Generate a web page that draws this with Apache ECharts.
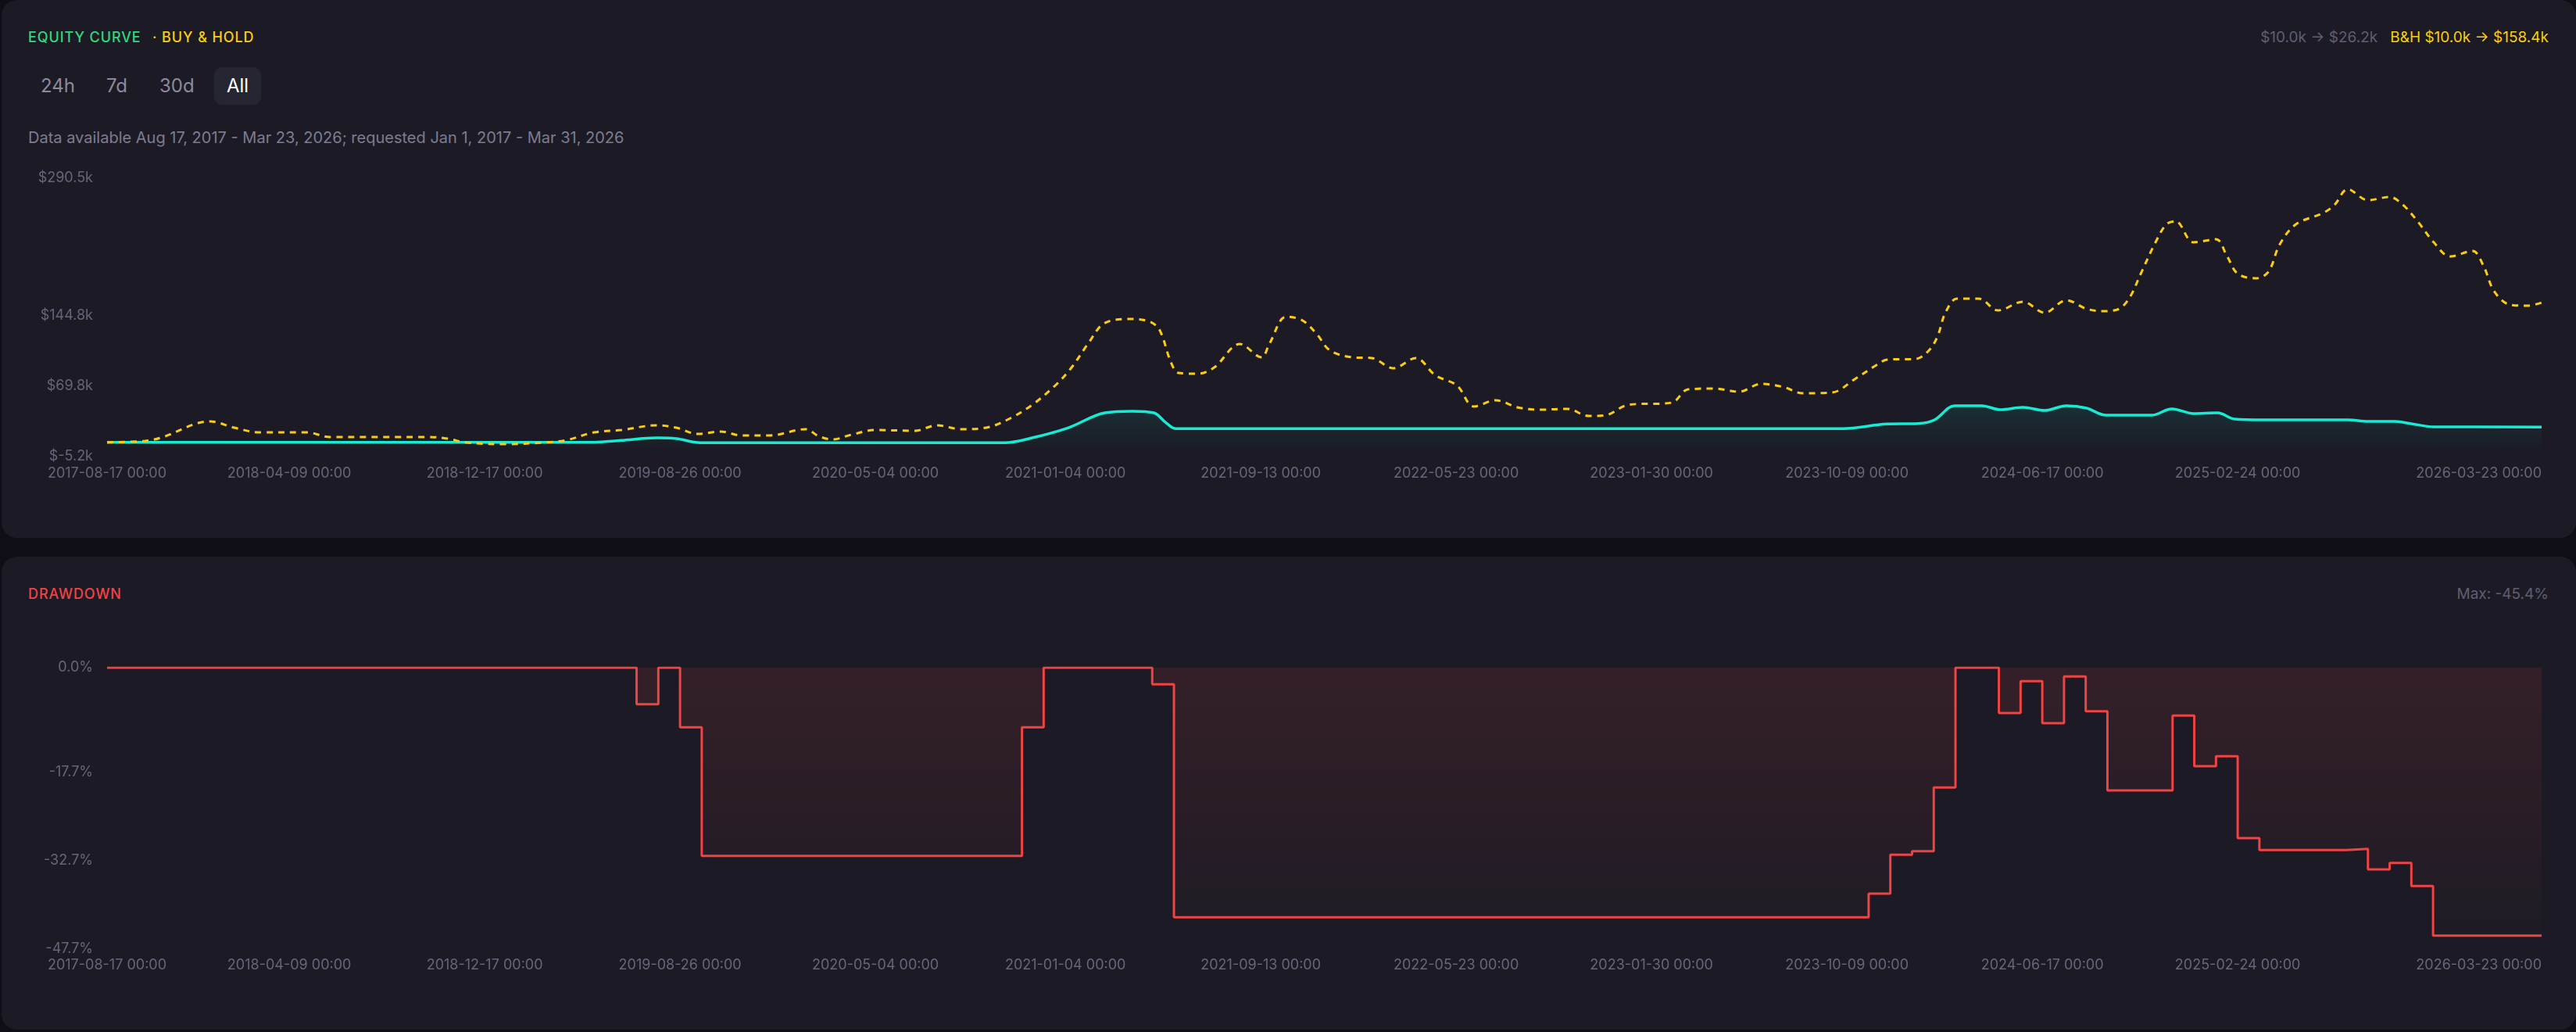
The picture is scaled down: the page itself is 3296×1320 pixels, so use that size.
<!DOCTYPE html>
<html>
<head>
<meta charset="utf-8">
<title>Equity curve</title>
<script src="https://cdn.jsdelivr.net/npm/echarts@6/dist/echarts.min.js"></script>
<style>
  html, body { margin: 0; padding: 0; background: #0f0e17; }
  body { width: 3296px; height: 1320px; position: relative; overflow: hidden; font-family: Inter, 'Noto Sans', sans-serif; }
  .card { position: absolute; left: 2px; width: 3294px; background: #1c1b25; border-radius: 20px; }
  .txt { position: absolute; white-space: nowrap; height: 30px; line-height: 30px; }
  .tag { font-size: 18px; font-weight: 500; letter-spacing: 0.9px; }
  .btn { font-size: 24px; color: #8b8a9f; height: 48px; line-height: 48px; }
  #chart { position: absolute; left: 0; top: 0; width: 3296px; height: 1320px; }
</style>
</head>
<body>
<div class="card" style="top:0;height:688px"></div>
<div class="card" style="top:712px;height:605px"></div>

<div class="txt tag" style="left:36px;top:33px;color:#34d77b">EQUITY CURVE</div>
<div class="txt tag" style="left:195px;top:33px;color:#facc15">· BUY &amp; HOLD</div>
<div class="txt" style="right:35px;top:33px;font-size:19px">
  <span style="color:#5f5e73">$10.0k → $26.2k</span>&nbsp;&nbsp;&nbsp;<span style="color:#facc15">B&amp;H $10.0k → $158.4k</span>
</div>

<div style="position:absolute;left:274px;top:86px;width:60px;height:48px;background:#262532;border-radius:10px"></div>
<div class="txt btn" style="left:52px;top:86px">24h</div>
<div class="txt btn" style="left:136px;top:86px">7d</div>
<div class="txt btn" style="left:204px;top:86px">30d</div>
<div class="txt btn" style="left:274px;top:86px;width:60px;text-align:center;color:#ffffff">All</div>

<div class="txt" style="left:36px;top:161px;font-size:20px;color:#7d7c90">Data available Aug 17, 2017 - Mar 23, 2026; requested Jan 1, 2017 - Mar 31, 2026</div>

<div class="txt tag" style="left:36px;top:745px;color:#ef4444">DRAWDOWN</div>
<div class="txt" style="right:35px;top:745px;font-size:19px;color:#5f5e73">Max: -45.4%</div>

<div id="chart"></div>

<script>
// Buy & hold value ($k)
const bhDates = [
  '2017-08-17','2017-10-05','2017-10-25','2017-12-28','2018-01-28','2018-03-02','2018-05-02','2018-05-31',
  '2018-10-05','2018-10-30','2018-11-23','2019-01-12','2019-03-04','2019-04-01','2019-05-07','2019-06-11',
  '2019-07-27','2019-08-21','2019-09-18','2019-10-17','2019-11-14','2019-12-19','2020-02-04','2020-02-21',
  '2020-03-10','2020-04-03','2020-05-04','2020-06-24','2020-07-22','2020-08-23','2020-09-24','2020-10-25',
  '2020-11-22','2020-12-22','2021-01-12','2021-02-02','2021-02-24','2021-03-31','2021-04-24','2021-05-06',
  '2021-05-20','2021-05-30','2021-06-24','2021-07-15','2021-08-17','2021-09-14','2021-09-24','2021-10-16',
  '2021-11-06','2021-11-24','2021-12-11','2022-01-09','2022-02-03','2022-03-03','2022-04-01','2022-04-26',
  '2022-05-24','2022-06-15','2022-07-13','2022-08-10','2022-09-08','2022-10-13','2022-11-10','2022-12-02',
  '2022-12-30','2023-02-25','2023-03-18','2023-04-21','2023-05-23','2023-06-20','2023-07-19','2023-08-13',
  '2023-09-20','2023-10-19','2023-11-16','2023-11-30','2024-01-06','2024-01-23','2024-02-03','2024-02-13',
  '2024-02-28','2024-03-27','2024-04-21','2024-05-23','2024-06-20','2024-07-18','2024-08-13','2024-09-03',
  '2024-09-24','2024-10-08','2024-10-22','2024-11-10','2024-11-24','2024-12-06','2024-12-29','2025-01-27',
  '2025-02-10','2025-02-24','2025-03-20','2025-04-05','2025-04-19','2025-05-10','2025-06-15','2025-06-29',
  '2025-07-16','2025-08-11','2025-09-08','2025-09-25','2025-10-14','2025-11-04','2025-11-25','2025-12-24',
  '2026-01-07','2026-01-21','2026-02-11','2026-03-05','2026-03-23'
];
const bhValues = [
  10.0, 11.4, 14.7, 32.2, 25.5, 20.5, 20.5, 15.6,
  15.6, 13.9, 9.8, 8.1, 9.8, 12.2, 20.5, 23.0,
  28.0, 25.5, 18.9, 21.4, 17.2, 17.2, 23.9, 16.4,
  13.1, 18.1, 23.0, 22.2, 28.0, 23.9, 25.5, 35.5,
  49.6, 70.4, 89.5, 114.4, 136.8, 141.0, 137.7, 128.5,
  95.3, 83.7, 82.8, 89.5, 114.4, 100.3, 114.4, 143.5,
  139.3, 125.2, 107.8, 100.3, 99.5, 88.7, 99.5, 81.2,
  70.4, 48.0, 54.6, 47.1, 44.6, 45.5, 38.0, 38.8,
  49.6, 52.1, 66.2, 67.1, 63.7, 72.0, 68.7, 62.0,
  62.9, 77.0, 92.0, 97.8, 98.6, 107.8, 122.7, 147.6,
  162.6, 162.6, 150.1, 159.3, 147.6, 160.9, 151.8, 149.3,
  151.8, 164.2, 189.1, 222.4, 241.5, 244.8, 222.4, 225.7,
  208.3, 189.1, 184.2, 191.6, 219.9, 241.5, 253.9, 262.3,
  278.9, 267.2, 270.6, 262.3, 244.8, 222.4, 207.4, 213.2,
  197.5, 170.1, 156.0, 155.1, 158.4
];

// Strategy equity ($k)
const eqDates = [
  '2017-08-17','2019-05-07','2019-06-11','2019-07-27','2019-08-21','2019-09-21','2020-10-18','2020-11-22',
  '2021-01-08','2021-02-24','2021-03-31','2021-04-28','2021-05-13','2021-05-27','2023-10-04','2023-11-30',
  '2024-01-09','2024-01-30','2024-02-25','2024-03-31','2024-04-24','2024-05-23','2024-06-20','2024-07-18',
  '2024-08-13','2024-09-07','2024-11-05','2024-12-01','2024-12-29','2025-01-29','2025-02-20','2025-03-28',
  '2025-07-16','2025-08-11','2025-09-15','2025-10-06','2025-11-04','2026-03-23'
];
const eqValues = [
  10.0, 10.0, 12.0, 14.7, 13.9, 9.6, 9.6, 14.7,
  25.5, 41.3, 43.0, 41.3, 31.3, 24.4, 24.4, 29.4,
  29.9, 33.8, 48.8, 48.8, 44.6, 47.1, 43.8, 48.8,
  46.3, 38.8, 38.8, 45.5, 40.5, 41.3, 34.7, 33.8,
  33.8, 32.2, 32.2, 29.7, 26.4, 26.2
];

// Drawdown (%), each value holds until the next date
const ddDates = [
  '2017-08-17','2019-07-01','2019-07-29','2019-08-26','2019-09-23','2020-11-09','2020-12-07','2021-04-26',
  '2021-05-24','2023-11-06','2023-12-04','2024-01-01','2024-01-29','2024-02-26','2024-04-22','2024-05-20',
  '2024-06-17','2024-07-15','2024-08-12','2024-09-09','2024-12-02','2024-12-30','2025-01-27','2025-02-24',
  '2025-03-24','2025-07-14','2025-08-11','2025-09-08','2025-10-06','2025-11-03','2026-03-23'
];
const ddValues = [
  0, -6.2, 0, -10.1, -31.9, -10.1, 0, -2.8,
  -42.3, -38.3, -31.7, -31.1, -20.3, 0, -7.7, -2.3,
  -9.4, -1.5, -7.4, -20.8, -8.1, -16.7, -15.0, -28.9,
  -30.9, -30.7, -34.2, -33.1, -37.0, -45.4, -45.4
];

const xLabelDates = [
  '2017-08-17','2018-04-09','2018-12-17','2019-08-26','2020-05-04','2021-01-04','2021-09-13',
  '2022-05-23','2023-01-30','2023-10-09','2024-06-17','2025-02-24','2026-03-23'
];
const equityTicks = [-5.2, 69.8, 144.8, 290.5];
const drawdownTicks = [0, -17.7, -32.7, -47.7];

const ts = s => { const [y, m, d] = s.split('-').map(Number); return new Date(y, m - 1, d).getTime(); };
const pairs = (dates, vals) => dates.map((d, i) => [ts(d), vals[i]]);

const LABEL = '#666579';
const xMin = ts(xLabelDates[0]);
const xMax = ts(xLabelDates[xLabelDates.length - 1]);

// dates are plotted on a value axis of timestamps so labels can sit on fixed dates
function xAxis(gridIndex, margin) {
  return {
    type: 'value', gridIndex, min: xMin, max: xMax,
    axisLine: { show: false }, axisTick: { show: false }, splitLine: { show: false },
    axisLabel: {
      customValues: xLabelDates.map(ts),
      formatter: v => echarts.time.format(v, '{yyyy}-{MM}-{dd} {HH}:{mm}', false),
      color: LABEL, fontSize: 18, fontFamily: 'Inter', margin,
      alignMaxLabel: 'right'
    }
  };
}

function yAxis(gridIndex, min, max, ticks, fmt) {
  return {
    type: 'value', gridIndex, min, max,
    axisLine: { show: false }, axisTick: { show: false }, splitLine: { show: false },
    axisLabel: { customValues: ticks, formatter: fmt, color: LABEL, fontSize: 18, fontFamily: 'Inter', margin: 18 }
  };
}

const chart = echarts.init(document.getElementById('chart'), null, { renderer: 'canvas' });

chart.setOption({
  backgroundColor: 'transparent',
  animation: false,
  grid: [
    { left: 137, right: 44, top: 228, height: 356 },
    { left: 137, right: 44, top: 854, height: 360 }
  ],
  xAxis: [xAxis(0, 13), xAxis(1, 12)],
  yAxis: [
    yAxis(0, -5.2, 290.5, equityTicks, v => '$' + v.toFixed(1) + 'k'),
    yAxis(1, -47.7, 0, drawdownTicks, v => v.toFixed(1) + '%')
  ],
  series: [
    {
      name: 'Equity', type: 'line', xAxisIndex: 0, yAxisIndex: 0,
      data: pairs(eqDates, eqValues),
      smooth: 0.35, showSymbol: false,
      lineStyle: { color: '#16ecd3', width: 3.5 },
      areaStyle: {
        color: new echarts.graphic.LinearGradient(0, 0, 0, 1, [
          { offset: 0, color: 'rgba(22,236,211,0.14)' },
          { offset: 1, color: 'rgba(22,236,211,0)' }
        ])
      }
    },
    {
      name: 'Buy & Hold', type: 'line', xAxisIndex: 0, yAxisIndex: 0,
      data: pairs(bhDates, bhValues),
      smooth: 0.35, showSymbol: false,
      lineStyle: { color: '#facc15', width: 3, type: [8, 7] }
    },
    {
      name: 'Drawdown', type: 'line', xAxisIndex: 1, yAxisIndex: 1,
      data: pairs(ddDates, ddValues),
      step: 'end', showSymbol: false,
      lineStyle: { color: '#ef4444', width: 3 },
      areaStyle: {
        color: new echarts.graphic.LinearGradient(0, 0, 0, 1, [
          { offset: 0, color: 'rgba(239,68,68,0.17)' },
          { offset: 1, color: 'rgba(239,68,68,0.02)' }
        ])
      }
    }
  ]
});
</script>
</body>
</html>
